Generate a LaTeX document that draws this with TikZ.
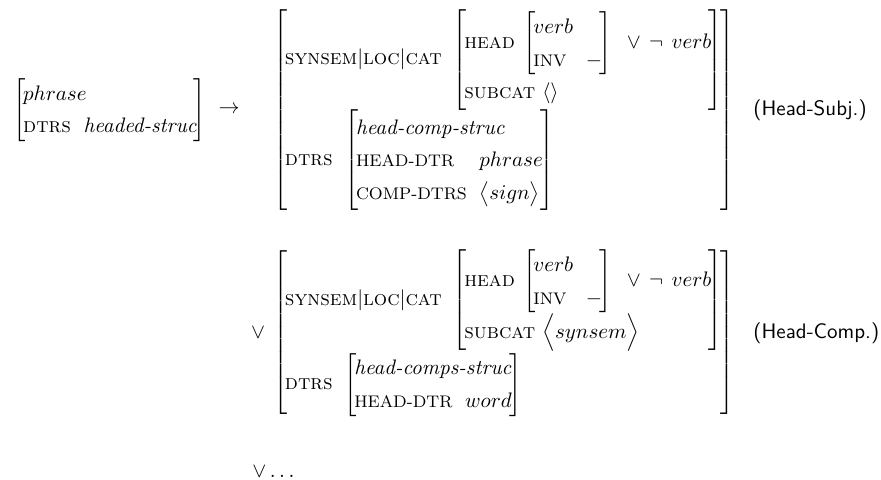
\documentclass[tikz,border=0pt]{standalone}
\usepackage{amsmath}
\newcommand{\ft}[1]{\textsc{#1}}
\newcommand{\fu}[1]{\text{\footnotesize #1}}
\newcommand{\tp}[1]{\textit{#1}}
\newcommand{\bl}{\hspace{-1.2pt}}
\renewcommand{\arraystretch}{1.3}

\begin{document}
\begin{tikzpicture}[x=0.5pt, y=-0.5pt, every node/.style={inner sep=0pt, scale=1.05}]
\useasboundingbox (0,0) rectangle (881,479);
\node (lhs) at (13,110) [anchor=west] {$\left[\begin{array}{@{\bl}l@{\hspace{6pt}}l@{\bl}}
  \multicolumn{2}{@{\bl}l@{\bl}}{phrase} \\
  \ft{dtrs} & \tp{headed-struc}
\end{array}\right]$};
\node (to) at (229,110) {$\rightarrow$};
\node (hsubj) at (273,110) [anchor=west] {$\left[\begin{array}{@{\bl}l@{\bl}}
  \ft{synsem}|\ft{loc}|\ft{cat}\hspace{3.6pt}\left[\begin{array}{@{\bl}l@{\bl}}
    \ft{head}\hspace{2.5pt}\left[\begin{array}{@{\bl}l@{\hspace{6pt}}l@{\bl}} verb & \\ \fu{INV} & - \end{array}\right]\hspace{5.5pt}{\vee}\hspace{4pt}{\neg}\hspace{4pt} verb \\
    \ft{subcat}\ \langle\rangle
  \end{array}\right] \\
  \ft{dtrs}\hspace{4pt}\left[\begin{array}{@{\bl}l@{\hspace{6pt}}l@{\bl}}
    \multicolumn{2}{@{\bl}l@{\bl}}{\tp{head-comp-struc}} \\
    \fu{HEAD-DTR} & phrase \\
    \fu{COMP-DTRS} & \bigl\langle sign \bigr\rangle
  \end{array}\right]
\end{array}\right]$};
\node (hsubjlbl) at (753,110) [anchor=west] {\textsf{(Head-Subj.)}};
\node (or) at (258,333) {$\vee$};
\node (hcomp) at (273,333) [anchor=west] {$\left[\begin{array}{@{\bl}l@{\bl}}
  \ft{synsem}|\ft{loc}|\ft{cat}\hspace{3.6pt}\left[\begin{array}{@{\bl}l@{\bl}}
    \ft{head}\hspace{2.5pt}\left[\begin{array}{@{\bl}l@{\hspace{6pt}}l@{\bl}} verb & \\ \fu{INV} & - \end{array}\right]\hspace{5.5pt}{\vee}\hspace{4pt}{\neg}\hspace{4pt} verb \\
    \ft{subcat}\ \Bigl\langle synsem \Bigr\rangle
  \end{array}\right] \\
  \ft{dtrs}\hspace{4pt}\left[\begin{array}{@{\bl}l@{\hspace{6pt}}l@{\bl}}
    \multicolumn{2}{@{\bl}l@{\bl}}{\tp{head-comps-struc}} \\
    \fu{HEAD-DTR} & word
  \end{array}\right]
\end{array}\right]$};
\node (hcomplbl) at (753,333) [anchor=west] {\textsf{(Head-Comp.)}};
\node (more) at (252,477) [anchor=base west] {${\vee}\ldots$};
\end{tikzpicture}
\end{document}
